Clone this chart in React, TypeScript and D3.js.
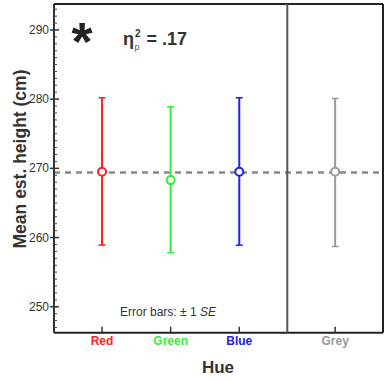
import { scaleLinear, scalePoint, range } from "d3";

// values
const hues = ["Red", "Green", "Blue"];
const controls = ["Grey"];
const means = [269.5, 268.3, 269.5];
const lows = [258.9, 257.8, 258.9];
const highs = [280.2, 278.9, 280.2];
const greyMean = [269.5];
const greyLow = [258.7];
const greyHigh = [280.1];
const hueColors = ["#ff2020", "#33ee33", "#2020f0"];
const greyColor = "#999999";
const refLine = 269.4;
const yTicks = [250, 260, 270, 280, 290];

const font = "'Liberation Sans', Arial, sans-serif";

export default function App() {
  const W = 390, H = 382;
  const left = 54, right = 383, top = 4, bottom = 332.7, split = 287.3;

  const y = scaleLinear().domain([246.25, 293.75]).range([bottom, top]);
  const xHue = scalePoint<string>().domain(hues).range([left, split]).padding(0.7);
  const xGrey = scalePoint<string>().domain(controls).range([split, right]).padding(0.5);

  const minor = range(247, 294, 1).filter((v) => v % 10 !== 0);

  const bar = (x: number, lo: number, hi: number, m: number, c: string, key: string) => (
    <g key={key}>
      <line x1={x} x2={x} y1={y(lo)} y2={y(hi)} stroke={c} strokeWidth={2} />
      <line x1={x - 3.5} x2={x + 3.5} y1={y(lo)} y2={y(lo)} stroke={c} strokeWidth={1.5} />
      <line x1={x - 3.5} x2={x + 3.5} y1={y(hi)} y2={y(hi)} stroke={c} strokeWidth={1.5} />
      <circle cx={x} cy={y(m)} r={4} fill="#fff" stroke={c} strokeWidth={2} />
    </g>
  );

  return (
    <svg width={W} height={H} style={{ position: "absolute", left: 0, top: 0 }} fontFamily={font}>
      <rect width={W} height={H} fill="#fff" />
      {/* reference line */}
      <line x1={left} x2={right} y1={y(refLine)} y2={y(refLine)} stroke="#888" strokeWidth={2.5} strokeDasharray="6,5" />

      {hues.map((h, i) => bar(xHue(h)!, lows[i], highs[i], means[i], hueColors[i], h))}
      {controls.map((h, i) => bar(xGrey(h)!, greyLow[i], greyHigh[i], greyMean[i], greyColor, h))}

      {/* frame */}
      <line x1={left} x2={right} y1={top} y2={top} stroke="#222" strokeWidth={2} />
      <line x1={right} x2={right} y1={top} y2={bottom} stroke="#222" strokeWidth={2} />
      <line x1={left} x2={right} y1={bottom} y2={bottom} stroke="#222" strokeWidth={2} />
      <line x1={left} x2={left} y1={top} y2={bottom} stroke="#333" strokeWidth={2} />
      <line x1={split} x2={split} y1={top} y2={bottom} stroke="#555" strokeWidth={2} />

      {/* y ticks */}
      {minor.map((v) => (
        <line key={v} x1={left} x2={left + 3} y1={y(v)} y2={y(v)} stroke="#444" strokeWidth={1} />
      ))}
      {yTicks.map((v) => (
        <g key={v}>
          <line x1={left - 4} x2={left + 5} y1={y(v)} y2={y(v)} stroke="#333" strokeWidth={1.5} />
          <text x={left - 5} y={y(v) + 4} textAnchor="end" fontSize={12} fill="#333">{v}</text>
        </g>
      ))}

      {/* x ticks */}
      {hues.map((h, i) => (
        <g key={h}>
          <line x1={xHue(h)!} x2={xHue(h)!} y1={bottom} y2={bottom - 6} stroke="#333" strokeWidth={1.5} />
          <text x={xHue(h)!} y={345} textAnchor="middle" fontSize={12} fontWeight="bold" fill={hueColors[i]}>{h}</text>
        </g>
      ))}
      {controls.map((h) => (
        <g key={h}>
          <line x1={xGrey(h)!} x2={xGrey(h)!} y1={bottom} y2={bottom - 6} stroke="#333" strokeWidth={1.5} />
          <text x={xGrey(h)!} y={345} textAnchor="middle" fontSize={12} fontWeight="bold" fill={greyColor}>{h}</text>
        </g>
      ))}

      {/* axis titles */}
      <text x={218} y={373} textAnchor="middle" fontSize={17} fontWeight="bold" fill="#333">Hue</text>
      <text transform="translate(26,159) rotate(-90)" textAnchor="middle" fontSize={17.5} fontWeight="bold" fill="#333">
        Mean est. height (cm)
      </text>

      {/* annotations */}
      <text x={82} y={60} textAnchor="middle" fontSize={54} fontWeight="bold" fill="#222">*</text>
      <text x={123} y={45} fontSize={18} fontWeight="bold" fill="#333">
        η<tspan fontSize={10} dy={-8} dx={1}>2</tspan><tspan fontSize={9} dy={13} dx={-6} fontWeight="normal" fill="#555">p</tspan><tspan dy={-5} dx={2}> = .17</tspan>
      </text>
      <text x={120} y={316} fontSize={12} fill="#333">
        Error bars: ± 1 <tspan fontStyle="italic">SE</tspan>
      </text>
    </svg>
  );
}
